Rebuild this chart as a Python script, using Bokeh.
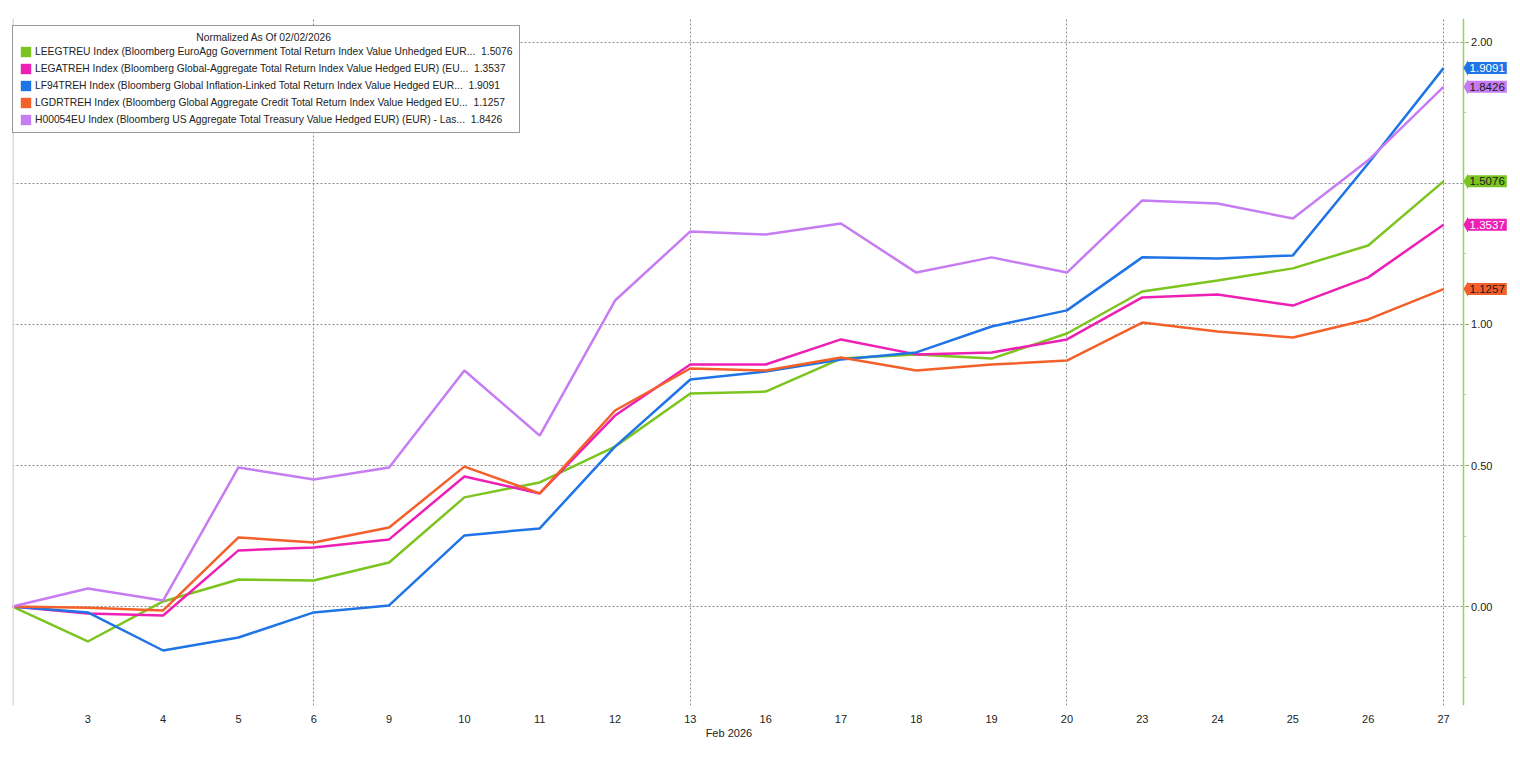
import datetime
from bokeh.plotting import figure
from bokeh.models import (Range1d, FixedTicker, SingleIntervalTicker, NumeralTickFormatter,
                          Legend, LegendItem, Label, PolyAnnotation, BoxAnnotation, Span)
from bokeh.embed import file_html
from bokeh.resources import INLINE

# trading days of Feb 2026
days = [2, 3, 4, 5, 6, 9, 10, 11, 12, 13, 16, 17, 18, 19, 20, 23, 24, 25, 26, 27]

leegtreu = [0, -0.124, 0.018, 0.096, 0.092, 0.156, 0.387, 0.440, 0.567, 0.755,
            0.762, 0.879, 0.894, 0.879, 0.968, 1.117, 1.156, 1.199, 1.280, 1.5076]
legatreh = [0, -0.025, -0.032, 0.199, 0.209, 0.238, 0.461, 0.401, 0.677, 0.858,
            0.858, 0.947, 0.894, 0.901, 0.947, 1.096, 1.106, 1.067, 1.167, 1.3537]
lf94treh = [0, -0.021, -0.156, -0.110, -0.021, 0.004, 0.252, 0.277, 0.567, 0.805,
            0.833, 0.876, 0.901, 0.993, 1.050, 1.238, 1.234, 1.245, 1.571, 1.9091]
lgdrtreh = [0, -0.004, -0.014, 0.245, 0.227, 0.280, 0.496, 0.401, 0.695, 0.844,
            0.837, 0.883, 0.837, 0.858, 0.872, 1.007, 0.975, 0.954, 1.018, 1.1257]
h00054eu = [0, 0.064, 0.021, 0.493, 0.450, 0.493, 0.837, 0.606, 1.085, 1.330,
            1.319, 1.358, 1.184, 1.238, 1.184, 1.440, 1.429, 1.376, 1.582, 1.8426]

names = [
    "LEEGTREU Index (Bloomberg EuroAgg Government Total Return Index Value Unhedged EUR...",
    "LEGATREH Index (Bloomberg Global-Aggregate Total Return Index Value Hedged EUR) (EU...",
    "LF94TREH Index (Bloomberg Global Inflation-Linked Total Return Index Value Hedged EUR...",
    "LGDRTREH Index (Bloomberg Global Aggregate Credit Total Return Index Value Hedged EU...",
    "H00054EU Index (Bloomberg US Aggregate Total Treasury Value Hedged EUR) (EUR) - Las...",
]
series = [leegtreu, legatreh, lf94treh, lgdrtreh, h00054eu]
colors = ["#7cc520", "#ee1fb4", "#1f74e6", "#f4602a", "#c67cf2"]
tag_text = ["#1a1a1a", "white", "white", "#1a1a1a", "#1a1a1a"]

FONT = "Liberation Sans"
xs = list(range(len(days)))

# the frame runs to the right edge so the value tags are not clipped;
# the value axis itself is pinned at AXIS_X
X_END = 19.916
AXIS_X = 19.265

p = figure(width=1516, height=750, output_backend="svg", toolbar_location=None,
           x_range=Range1d(0, X_END), y_range=Range1d(-0.351, 2.085),
           min_border_left=12, min_border_right=4, min_border_top=18, min_border_bottom=45)
p.outline_line_color = None

# value axis (ticks and labels pointing right of the pinned line)
ya = p.yaxis[0]
ya.fixed_location = AXIS_X
ya.bounds = (-0.351, 2.085)
ya.ticker = SingleIntervalTicker(interval=0.5, num_minor_ticks=2)
ya.formatter = NumeralTickFormatter(format="0.00")
ya.axis_line_color = "#95d455"
ya.axis_line_width = 1.5
ya.major_tick_out = 0
ya.major_tick_in = 5
ya.major_tick_line_color = "#5f9e24"
ya.minor_tick_out = 0
ya.minor_tick_in = 3
ya.minor_tick_line_color = "#b5dc90"
ya.major_label_text_font = FONT
ya.major_label_text_font_size = "11px"
ya.major_label_text_color = "#222222"
ya.major_label_standoff = -29

# blank strip right of the value axis (keeps grid lines off the labels)
p.add_layout(BoxAnnotation(left=AXIS_X, fill_color="white", fill_alpha=1,
                           line_color=None, level="glyph"))
# faint left border
p.add_layout(Span(location=0, dimension="height", line_color="#dcdcdc", line_width=3))

# bottom axis
xa = p.xaxis[0]
xa.ticker = FixedTicker(ticks=xs[1:])
xa.major_label_overrides = {i: str(d) for i, d in enumerate(days)}
xa.axis_line_color = None
xa.major_tick_line_color = None
xa.minor_tick_line_color = None
xa.major_label_text_font = FONT
xa.major_label_text_font_size = "11px"
xa.major_label_text_color = "#222222"
xa.major_label_standoff = 3
xa.axis_label = "Feb 2026" + "\u00a0" * 22
xa.axis_label_text_font = FONT
xa.axis_label_text_font_size = "11px"
xa.axis_label_text_font_style = "normal"
xa.axis_label_text_color = "#222222"
xa.axis_label_standoff = 1

# grid: horizontal on major ticks, vertical on fridays
fridays = [i for i, d in enumerate(days) if datetime.date(2026, 2, d).weekday() == 4]
p.xgrid.ticker = FixedTicker(ticks=fridays)
for g in (p.xgrid[0], p.ygrid[0]):
    g.grid_line_color = "#8a8a8a"
    g.grid_line_dash = "2 2"
    g.grid_line_width = 1

items = []
for name, vals, col, tcol in zip(names, series, colors, tag_text):
    p.line(xs, vals, line_color=col, line_width=2.5)
    # square swatch for legend
    sw = p.quad(left=[xs[0]], right=[xs[0]], bottom=[vals[0]], top=[vals[0]],
                fill_color=col, line_color=None)
    items.append(LegendItem(label=name + "\u00a0\u00a0" + "%.4f" % vals[-1], renderers=[sw]))

    # value tag next to the axis
    last = vals[-1]
    p.add_layout(PolyAnnotation(xs=[AXIS_X, AXIS_X + 0.06, AXIS_X + 0.06],
                                ys=[last, last + 0.028, last - 0.028],
                                fill_color=col, fill_alpha=1, line_color=None))
    p.add_layout(Label(x=AXIS_X + 0.055, y=last, text="%.4f" % last,
                       text_baseline="middle", text_align="left",
                       text_font=FONT, text_font_size="11.5px", text_color=tcol,
                       background_fill_color=col, background_fill_alpha=1,
                       padding=2))

legend = Legend(items=items, location=(0, 572),
                title="\u00a0" * 62 + "Normalized As Of 02/02/2026")
legend.title_text_font = FONT
legend.title_text_font_size = "10.3px"
legend.title_text_font_style = "normal"
legend.title_text_color = "#222222"
legend.title_standoff = 2
legend.label_text_font = FONT
legend.label_text_font_size = "10.3px"
legend.label_text_color = "#222222"
legend.label_height = 13
legend.glyph_height = 13
legend.glyph_width = 13
legend.label_standoff = 3
legend.spacing = 4
legend.padding = 6
legend.margin = 0
legend.border_line_color = "#333333"
legend.border_line_width = 1
legend.background_fill_alpha = 0.95
p.add_layout(legend)

open("out.html", "w").write(file_html(p, INLINE))
